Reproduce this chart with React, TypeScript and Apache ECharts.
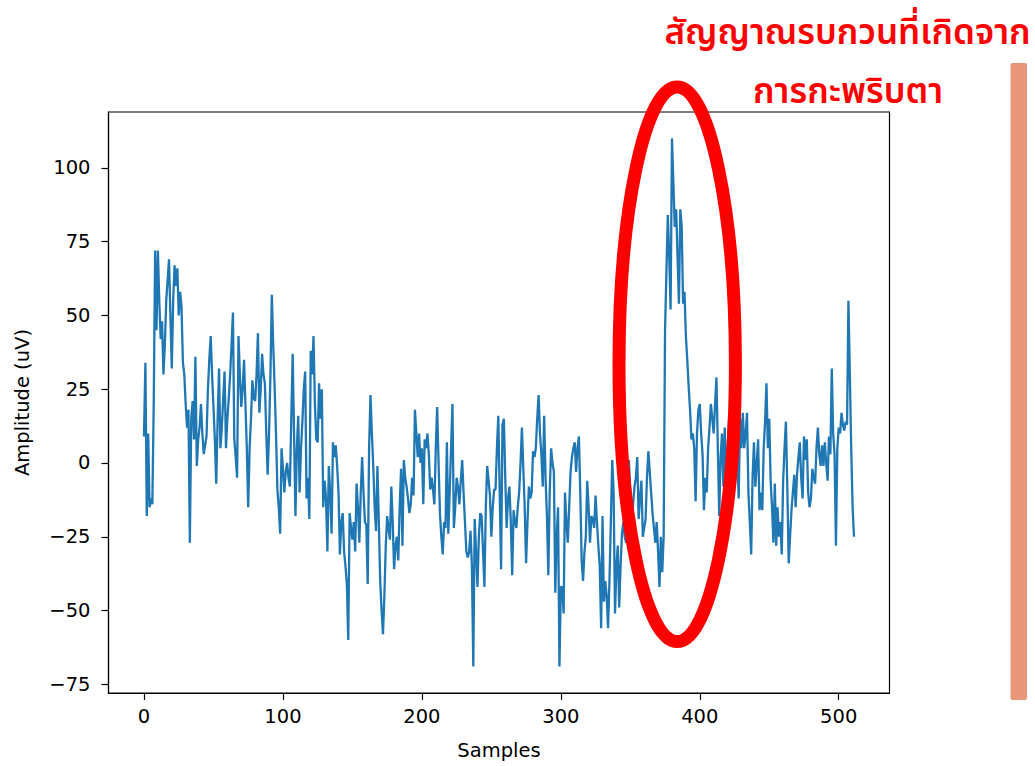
import React, { useEffect, useRef } from "react";
import * as echarts from "echarts";

const amplitudes: number[] = [
  9, 34, -18, 10, -15, -12, -14, 20, 72, 45,
  72, 55, 42, 48, 30, 40, 55, 62, 69, 50,
  32, 55, 67, 60, 66, 50, 58, 53, 34, 30,
  20, 12, 18, -27, 15, 21, 8, 36, -1, 8,
  12, 20, 10, 3, 6, 9, 25, 35, 43, 30,
  19, 8, -7, 15, 32, 5, 12, 22, 31, 5,
  15, 22, 30, 40, 51, 8, 2, -5, 43, 30,
  19, 25, 35, 20, 5, -15, 5, 15, 28, 22,
  21, 30, 44, 17, 25, 37, 30, 27, 10, -4,
  10, 30, 57, 40, 26, 10, -9, -15, -24, 5,
  -2, -10, -3, 0, -5, -8, 15, 37, 10, -18,
  5, 16, -10, 5, 14, 25, 31, -12, -5, -19,
  38, 30, 43, 20, 8, 7, 27, 15, 25, -15,
  -6, -12, -30, -1, -10, -24, 7, 2, 6, -1,
  -10, -31, -20, -17, -30, -35, -41, -60, -17, -22,
  -26, -20, -30, -7, -15, -27, -10, 2, -10, -20,
  -21, -41, 5, 23, 10, -1, -15, -23, -1, -20,
  -40, -50, -58, -45, -28, -18, -22, -26, -8, -20,
  -36, -28, -25, -33, -15, -2, -28, 1, -5, -8,
  -12, -17, -14, -5, -11, 18, 10, 2, 10, 0,
  5, -14, 8, 5, 10, 3, -9, -5, -9, -14,
  5, 19, 0, -17, -25, -31, -20, -22, 7, -24,
  -10, 5, 20, -22, -15, -5, -8, -14, -6, 1,
  -10, -20, -30, -32, -30, -23, -35, -69, -19, -30,
  -42, -25, -17, -18, -30, -42, -15, -1, -6, -11,
  -25, -15, -9, -9, 5, 16, -10, -36, 13, 15,
  -5, -22, -12, -8, -20, -38, -16, -20, -22, -15,
  -10, 0, 12, -2, -15, -34, -20, -8, -12, -10,
  4, 2, 5, 15, 23, 10, 3, -8, 16, -5,
  -18, -38, -10, 5, 0, -3, -44, -25, -15, -69,
  -42, -42, -51, -10, -20, -27, -15, -3, 2, 5,
  7, -3, 5, 9, -10, -33, -40, -30, -25, -6,
  -15, -27, -18, -19, -22, -11, -20, -28, -35, -56,
  -18, -47, -40, -45, -56, -40, -20, 1, -10, -51,
  -35, -28, -49, -35, -24, -20, -25, -27, -15, 1,
  -10, -19, -14, -8, -5, 2, -19, -12, -6, -25,
  -22, -19, -5, 4, -3, -10, -17, -22, -27, -20,
  -30, -42, -25, -37, -25, 45, 65, 84, 70, 52,
  110, 95, 80, 86, 70, 54, 86, 80, 54, 58,
  43, 35, 26, 18, 8, 10, 5, -13, 10, 18,
  20, 10, 3, -16, -5, -10, 5, 12, 20, 15,
  10, 20, 29, 5, -18, 2, 10, -8, 12, -15,
  5, 15, -10, 8, 20, -5, 10, 2, -12, 15,
  5, 17, 5, 10, 17, -10, -20, -31, -5, 7,
  -8, 0, 8, -16, -10, -16, 5, 14, 27, 5,
  15, -6, -15, -27, -7, -28, -15, -25, -20, -31,
  -6, 5, 14, -8, -34, -25, -16, -10, -4, -15,
  -4, 2, 7, -5, -12, 9, 1, 8, -10, -15,
  -12, -2, -5, -7, 5, 12, 3, -1, 6, -1,
  7, 0, -6, 9, 3, 32, 10, 3, -28, 5,
  12, 10, 17, 13, 11, 14, 13, 55, 30, 5,
  -15, -25,
];

const xTicks: number[] = [0, 100, 200, 300, 400, 500];
const yTicks: number[] = [-75, -50, -25, 0, 25, 50, 75, 100];
const xLabel = "Samples";
const yLabel = "Amplitude (uV)";
const noteLine1 = "สัญญาณรบกวนที่เกิดจาก";
const noteLine2 = "การกะพริบตา";

const FONT = "'DejaVu Sans', sans-serif";
const THAI_FONT = "'Noto Sans Thai', 'Noto Sans Thai UI', 'Loma', 'Tlwg Typo', 'Noto Sans', 'DejaVu Sans', sans-serif";

const fmt = (v: number) => String(v).replace("-", "\u2212");

export default function App() {
  const ref = useRef<HTMLDivElement>(null);

  useEffect(() => {
    if (!ref.current) return;
    const chart = echarts.init(ref.current, undefined, { renderer: "svg" });
    const n = amplitudes.length;
    const ymin = Math.min(...amplitudes);
    const ymax = Math.max(...amplitudes);
    const xPad = (n - 1) * 0.05;
    const yPad = (ymax - ymin) * 0.05;

    chart.setOption({
      animation: false,
      backgroundColor: "#ffffff",
      grid: {
        left: 108.5,
        right: 145.5,
        top: 112,
        bottom: 73,
        show: true,
        borderColor: "#000000",
        borderWidth: 1.2,
        backgroundColor: "transparent",
      },
      xAxis: {
        type: "value",
        min: -xPad,
        max: n - 1 + xPad,
        name: xLabel,
        nameLocation: "middle",
        nameGap: 47,
        nameTextStyle: { fontFamily: FONT, fontSize: 19.5, color: "#000" },
        splitLine: { show: false },
        axisLine: { show: true, onZero: false, lineStyle: { color: "#000", width: 1.2 } },
        axisTick: { show: true, length: 7, customValues: xTicks, lineStyle: { color: "#000", width: 1.2 } },
        axisLabel: {
          customValues: xTicks,
          formatter: fmt,
          fontFamily: FONT,
          fontSize: 19.5,
          color: "#000",
          margin: 13,
        },
      },
      yAxis: {
        type: "value",
        min: ymin - yPad,
        max: ymax + yPad,
        name: yLabel,
        nameLocation: "middle",
        nameGap: 76,
        nameRotate: 90,
        nameTextStyle: { fontFamily: FONT, fontSize: 19.5, color: "#000" },
        splitLine: { show: false },
        axisLine: { show: true, onZero: false, lineStyle: { color: "#000", width: 1.2 } },
        axisTick: { show: true, length: 7, customValues: yTicks, lineStyle: { color: "#000", width: 1.2 } },
        axisLabel: {
          customValues: yTicks,
          formatter: fmt,
          fontFamily: FONT,
          fontSize: 19.5,
          color: "#000",
          margin: 18,
        },
      },
      series: [
        {
          type: "line",
          data: amplitudes.map((v, i) => [i, v]),
          showSymbol: false,
          lineStyle: { color: "#1f77b4", width: 2.3 },
          z: 2,
        },
      ],
      graphic: [
        {
          type: "ellipse",
          z: 100,
          shape: { cx: 677.2, cy: 364.3, rx: 58.2, ry: 277.3 },
          style: { fill: "none", stroke: "#FF0000", lineWidth: 13 },
        },
        {
          type: "rect",
          z: 100,
          shape: { x: 1010.5, y: 63, width: 16.5, height: 637, r: 2 },
          style: { fill: "#E9967A" },
        },
        {
          type: "text",
          z: 100,
          x: 847.5,
          y: 33,
          style: {
            text: noteLine1,
            align: "center",
            verticalAlign: "middle",
            font: `600 35px ${THAI_FONT}`,
            fill: "#FF0000",
          },
        },
        {
          type: "text",
          z: 100,
          x: 848,
          y: 92,
          style: {
            text: noteLine2,
            align: "center",
            verticalAlign: "middle",
            font: `600 35px ${THAI_FONT}`,
            fill: "#FF0000",
          },
        },
      ],
    });

    return () => chart.dispose();
  }, []);

  return (
    <div
      ref={ref}
      style={{ position: "fixed", left: 0, top: 0, width: 1035, height: 766, background: "#fff" }}
    />
  );
}
